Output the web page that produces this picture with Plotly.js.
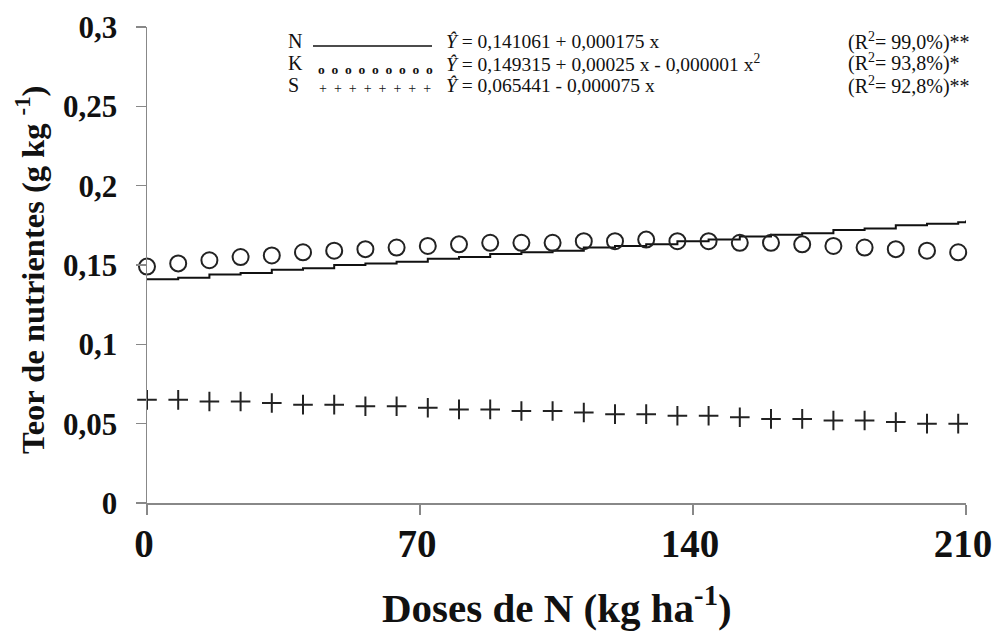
<!DOCTYPE html>
<html>
<head>
<meta charset="utf-8">
<script src="https://cdn.plot.ly/plotly-3.0.1.min.js"></script>
<style>html,body{margin:0;padding:0;background:#fff;}#chart{width:994px;height:633px;}</style>
</head>
<body>
<div id="chart"></div>
<script>
// ---- data ----
const doses = [0,8,16,24,32,40,48,56,64,72,80,88,96,104,112,120,128,136,144,152,160,168,176,184,192,200,208];
const kValues = [0.149,0.151,0.153,0.155,0.156,0.158,0.159,0.160,0.161,0.162,0.163,0.164,0.164,0.164,0.165,0.165,0.166,0.165,0.165,0.164,0.164,0.163,0.162,0.161,0.160,0.159,0.158];
const sValues = [0.065,0.065,0.064,0.064,0.063,0.062,0.062,0.061,0.061,0.060,0.059,0.059,0.058,0.058,0.057,0.056,0.056,0.055,0.055,0.054,0.053,0.053,0.052,0.052,0.051,0.050,0.050];
const nDoses = [0,8,16,24,32,40,48,56,64,72,80,88,96,104,112,120,128,136,144,152,160,168,176,184,192,200,208,210];
const nValues = [0.141,0.142,0.144,0.145,0.147,0.148,0.150,0.151,0.152,0.154,0.155,0.157,0.158,0.159,0.161,0.162,0.163,0.165,0.166,0.168,0.169,0.170,0.172,0.173,0.175,0.176,0.177,0.178];
const xTickVals = [0,70,140,210];
const xTickText = ['0','70','140','210'];
const yTickVals = [0,0.05,0.1,0.15,0.2,0.25,0.3];
const yTickText = ['0','0,05','0,1','0,15','0,2','0,25','0,3'];
const legendNames = ['N','K','S'];
const legendEquations = [
  '<i>Ŷ</i> = 0,141061 + 0,000175 x',
  '<i>Ŷ</i> = 0,149315 + 0,00025 x - 0,000001 x<sup>2</sup>',
  '<i>Ŷ</i> = 0,065441 - 0,000075 x'
];
const legendR2 = ['(R<sup>2</sup>= 99,0%)**','(R<sup>2</sup>= 93,8%)*','(R<sup>2</sup>= 92,8%)**'];

// ---- layout helpers (pixel -> paper) ----
const L = 147, R = 966, T = 27, B = 503;
const px = v => (v - L) / (R - L);
const py = v => (B - v) / (B - T);
const serif = '"Liberation Serif", "Times New Roman", serif';

const traces = [
  {x: nDoses, y: nValues, mode: 'lines', type: 'scatter', name: 'N',
   line: {color: '#111', width: 2, shape: 'hv'}, cliponaxis: false, hoverinfo: 'skip'},
  {x: doses, y: kValues, mode: 'markers', type: 'scatter', name: 'K',
   marker: {symbol: 'circle-open', size: 16, color: '#222', line: {width: 2, color: '#222'}},
   cliponaxis: false},
  {x: doses, y: sValues, mode: 'markers', type: 'scatter', name: 'S',
   marker: {symbol: 'cross-thin', size: 14, color: '#222', line: {width: 2, color: '#222'}},
   cliponaxis: false}
];

const rowMid = [41, 63, 85];
const ann = [];
for (let i = 0; i < 3; i++) {
  const yy = py(rowMid[i]);
  ann.push({xref:'paper', yref:'paper', x: px(286), y: yy, xanchor:'left', yanchor:'middle',
            text: legendNames[i], showarrow:false, font:{family:serif, size:20, color:'#111'}});
  ann.push({xref:'paper', yref:'paper', x: px(444), y: yy, xanchor:'left', yanchor:'middle',
            text: legendEquations[i], showarrow:false, font:{family:serif, size:19.5, color:'#111'}});
  ann.push({xref:'paper', yref:'paper', x: px(846), y: yy, xanchor:'left', yanchor:'middle',
            text: legendR2[i], showarrow:false, font:{family:serif, size:20, color:'#111'}});
}
// legend symbols
ann.push({xref:'paper', yref:'paper', x: px(316), y: py(69), xanchor:'left', yanchor:'middle',
          text: 'o&nbsp;&nbsp;o&nbsp;&nbsp;o&nbsp;&nbsp;o&nbsp;&nbsp;o&nbsp;&nbsp;o&nbsp;&nbsp;o&nbsp;&nbsp;o&nbsp;&nbsp;o',
          showarrow:false, font:{family:serif, size:13.5, color:'#111', weight:'bold'}});
ann.push({xref:'paper', yref:'paper', x: px(317), y: py(88), xanchor:'left', yanchor:'middle',
          text: '+&nbsp;&nbsp;+&nbsp;&nbsp;+&nbsp;&nbsp;+&nbsp;&nbsp;+&nbsp;&nbsp;+&nbsp;&nbsp;+&nbsp;&nbsp;+',
          showarrow:false, font:{family:serif, size:14, color:'#111'}});
// axis titles
ann.push({xref:'paper', yref:'paper', x: px(557), y: py(605), xanchor:'center', yanchor:'middle',
          text: 'Doses de N (kg ha<sup>-1</sup>)', showarrow:false,
          font:{family:serif, size:41, color:'#111', weight:'bold'}});
ann.push({xref:'paper', yref:'paper', x: px(30), y: py(270), xanchor:'center', yanchor:'middle',
          text: 'Teor de nutrientes (g kg <sup>-1</sup>)', showarrow:false, textangle:-90,
          font:{family:serif, size:32.5, color:'#111', weight:'bold'}});

const layout = {
  width: 994, height: 633,
  margin: {l: L, r: 994 - R, t: T, b: 633 - B, pad: 0},
  paper_bgcolor: '#fff', plot_bgcolor: '#fff',
  showlegend: false,
  xaxis: {range: [0, 210], tickvals: xTickVals, ticktext: xTickText,
          showgrid: false, zeroline: false, showline: true, linecolor: '#888', linewidth: 1.5,
          ticks: 'outside', ticklen: 10, tickwidth: 1.2, tickcolor: '#888',
          ticklabelstandoff: -4, ticklabelshift: -3, ticklabeloverflow: 'allow',
          tickfont: {family: serif, size: 39, color: '#111', weight: 'bold'}},
  yaxis: {range: [0, 0.3], tickvals: yTickVals, ticktext: yTickText,
          showgrid: false, zeroline: false, showline: true, linecolor: '#888', linewidth: 1.5,
          ticks: 'outside', ticklen: 10, tickwidth: 1.2, tickcolor: '#888',
          ticklabelstandoff: 12, ticklabeloverflow: 'allow',
          tickfont: {family: serif, size: 31, color: '#111', weight: 'bold'}},
  shapes: [{type: 'line', xref: 'paper', yref: 'paper', x0: px(313), x1: px(432), y0: py(46), y1: py(46),
            line: {color: '#111', width: 1.5}}],
  annotations: ann
};

Plotly.newPlot('chart', traces, layout, {displayModeBar: false, staticPlot: true});
</script>
</body>
</html>
